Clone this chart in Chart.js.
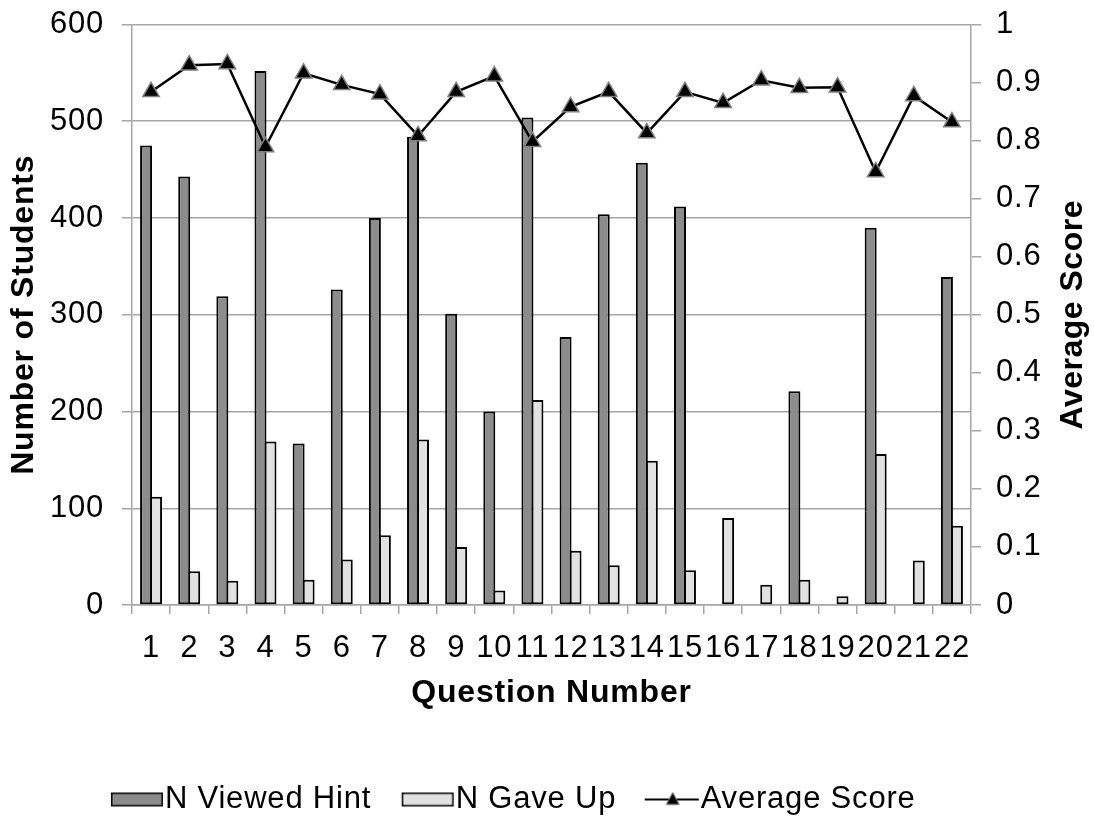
<!DOCTYPE html>
<html>
<head>
<meta charset="utf-8">
<script src="https://cdn.jsdelivr.net/npm/chart.js@4.4.1/dist/chart.umd.min.js"></script>
<style>
  html, body { margin: 0; padding: 0; background: #ffffff; }
  #wrap { width: 1094px; height: 816px; }
</style>
</head>
<body>
<div id="wrap"><canvas id="chart" width="1094" height="816"></canvas></div>
<script>
// Question numbers on the category axis
const questions = ['1','2','3','4','5','6','7','8','9','10','11','12','13','14','15','16','17','18','19','20','21','22'];
// Students who opened the hint, per question
const viewedHint = [475, 443, 319, 552, 167, 326, 400, 484, 301, 200, 504, 277, 404, 457, 412, 0, 0, 221, 0, 390, 0, 339];
// Students who gave up, per question
const gaveUp = [112, 35, 25, 169, 26, 47, 72, 171, 60, 15, 212, 56, 41, 149, 36, 90, 21, 26, 9, 156, 46, 82];
// Mean score per question (right axis)
const averageScore = [0.884, 0.930, 0.932, 0.789, 0.916, 0.896, 0.880, 0.808, 0.884, 0.911, 0.798, 0.858, 0.884, 0.813, 0.884, 0.865, 0.904, 0.891, 0.892, 0.746, 0.877, 0.832];
// Axis tick values
const studentTicks = [0, 100, 200, 300, 400, 500, 600];
const scoreTicks = [0, 0.1, 0.2, 0.3, 0.4, 0.5, 0.6, 0.7, 0.8, 0.9, 1];

const FAMILY = '"Liberation Sans", Arial, Helvetica, sans-serif';
const GRID = '#a6a6a6';
const DARK = '#8c8c8c';
const LIGHT = '#e1e1e1';
const TEXT_SIZE = 31;
const TITLE_SIZE = 32;
const SPACING = '0.8px';
const RIGHT_TITLE = 'Average Score';

// Legend symbols are drawn onto small canvases so the swatch sits right against its label
const SYMBOL_SLOT = 39;
function makeSymbol(kind, fill) {
  const c = document.createElement('canvas');
  c.width = SYMBOL_SLOT + TEXT_SIZE;
  c.height = 20;
  const g = c.getContext('2d');
  const x0 = Math.round(TEXT_SIZE / 2), x1 = c.width - 2;
  if (kind === 'box') {
    g.fillStyle = fill;
    g.fillRect(x0, 3, x1 - x0, 14);
    g.strokeStyle = '#000';
    g.lineWidth = 1.5;
    g.strokeRect(x0 + 0.75, 3.75, x1 - x0 - 1.5, 12.5);
  } else {
    g.strokeStyle = '#000';
    g.lineWidth = 2;
    g.beginPath();
    g.moveTo(x0 - 2, 10);
    g.lineTo(x1, 10);
    g.stroke();
    const cx = (x0 + x1) / 2;
    g.beginPath();
    g.moveTo(cx, 3);
    g.lineTo(cx + 6.5, 15);
    g.lineTo(cx - 6.5, 15);
    g.closePath();
    g.fillStyle = '#000';
    g.fill();
    g.strokeStyle = '#808080';
    g.lineWidth = 1;
    g.stroke();
  }
  return c;
}
const legendSymbols = [makeSymbol('box', DARK), makeSymbol('box', LIGHT), makeSymbol('line')];

const letterSpacing = {
  id: 'letterSpacing',
  beforeUpdate(chart) { chart.ctx.letterSpacing = SPACING; },
  beforeDraw(chart) { chart.ctx.letterSpacing = SPACING; }
};

const legendPlacement = {
  id: 'legendPlacement',
  afterLayout(chart) {
    const lg = chart.legend;
    lg.left -= 34; lg.right -= 34;
    lg.top += 9; lg.bottom += 9;
  }
};

// Right-hand axis title, reading bottom to top
const rightTitle = {
  id: 'rightTitle',
  afterDraw(chart) {
    const s = chart.scales.y1;
    const ctx = chart.ctx;
    ctx.save();
    ctx.letterSpacing = '0.5px';
    ctx.translate(s.right - 21, (s.top + s.bottom) / 2);
    ctx.rotate(-Math.PI / 2);
    ctx.font = 'bold ' + TITLE_SIZE + 'px ' + FAMILY;
    ctx.fillStyle = '#000';
    ctx.textAlign = 'center';
    ctx.textBaseline = 'middle';
    ctx.fillText(RIGHT_TITLE, 0, 0);
    ctx.restore();
  }
};

// Vertical axes: fixed width, and no extra space reserved above/below for tick labels
function fixVertical(width) {
  return function (s) {
    s.width = width;
    s.paddingTop = 0;
    s.paddingBottom = 0;
  };
}

const tickFont = { family: FAMILY, size: TEXT_SIZE };
const titleFont = { family: FAMILY, size: TITLE_SIZE, weight: 'bold' };

new Chart(document.getElementById('chart'), {
  type: 'bar',
  data: {
    labels: questions,
    datasets: [
      {
        type: 'bar', label: 'N Viewed Hint', data: viewedHint, yAxisID: 'y', order: 1,
        backgroundColor: DARK, borderColor: '#000', borderWidth: 2, borderSkipped: false,
        categoryPercentage: 0.524, barPercentage: 1.2
      },
      {
        type: 'bar', label: 'N Gave Up', data: gaveUp, yAxisID: 'y', order: 1,
        backgroundColor: LIGHT, borderColor: '#000', borderWidth: 2, borderSkipped: false,
        categoryPercentage: 0.524, barPercentage: 1.2
      },
      {
        type: 'line', label: 'Average Score', data: averageScore, yAxisID: 'y1', order: 0,
        borderColor: '#000', borderWidth: 2.5, tension: 0, fill: false,
        pointStyle: 'triangle', pointRadius: 9.5, pointBackgroundColor: '#000',
        pointBorderColor: '#7f7f7f', pointBorderWidth: 1.5
      }
    ]
  },
  options: {
    responsive: false,
    devicePixelRatio: 1,
    animation: false,
    layout: { padding: { top: 24.5, left: 0, right: 0, bottom: 0 } },
    plugins: {
      tooltip: { enabled: false },
      legend: {
        position: 'bottom',
        labels: {
          font: tickFont, color: '#000', usePointStyle: true, pointStyleWidth: SYMBOL_SLOT,
          padding: 30,
          sort: (a, b) => a.datasetIndex - b.datasetIndex,
          generateLabels(chart) {
            const items = Chart.defaults.plugins.legend.labels.generateLabels(chart);
            items.forEach(it => { it.pointStyle = legendSymbols[it.datasetIndex]; });
            return items;
          }
        }
      }
    },
    scales: {
      x: {
        grid: { offset: true, drawOnChartArea: false, drawTicks: true, tickLength: 9, color: GRID, lineWidth: 1.5 },
        border: { color: GRID, width: 1.5 },
        ticks: { font: tickFont, color: '#000', padding: 16, maxRotation: 0, autoSkip: false },
        title: { display: true, text: 'Question Number', font: titleFont, color: '#000', padding: { top: 0, bottom: 33 } },
        afterFit(s) { s.height = 140; }
      },
      y: {
        position: 'left', min: 0, max: 600,
        afterBuildTicks(s) { s.ticks = studentTicks.map(v => ({ value: v })); },
        ticks: { font: tickFont, color: '#000', padding: 18 },
        grid: { color: GRID, lineWidth: 1.5, tickLength: 10 },
        border: { color: GRID, width: 1.5 },
        title: { display: true, text: 'Number of Students', font: titleFont, color: '#000', padding: { top: 5, bottom: 0 } },
        afterFit: fixVertical(132)
      },
      y1: {
        position: 'right', min: 0, max: 1,
        afterBuildTicks(s) { s.ticks = scoreTicks.map(v => ({ value: v })); },
        ticks: { font: tickFont, color: '#000', padding: 15, callback: v => String(+v.toFixed(1)) },
        grid: { drawOnChartArea: false, color: GRID, lineWidth: 1.5, tickLength: 10 },
        border: { color: GRID, width: 1.5 },
        afterFit: fixVertical(123)
      }
    }
  },
  plugins: [letterSpacing, legendPlacement, rightTitle]
});
</script>
</body>
</html>
